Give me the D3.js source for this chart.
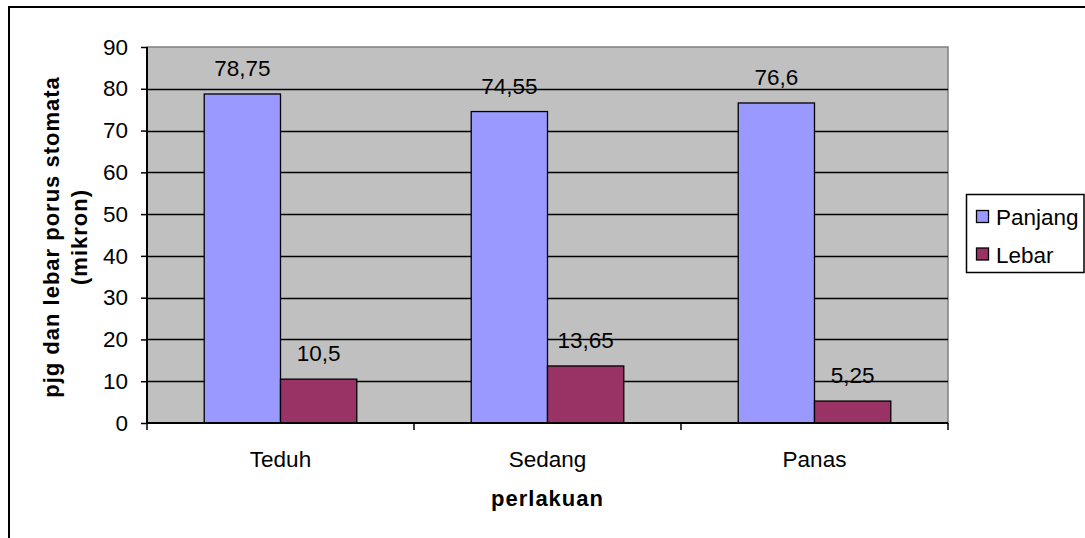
<!DOCTYPE html>
<html>
<head>
<meta charset="utf-8">
<script src="https://cdn.jsdelivr.net/npm/d3@7"></script>
<style>
  html, body { margin: 0; padding: 0; background: #fff; }
  svg { display: block; }
  text { font-family: "Liberation Sans", Arial, sans-serif; fill: #000; }
</style>
</head>
<body>
<svg id="chart" width="1085" height="538"></svg>
<script>
const categories = ["Teduh", "Sedang", "Panas"];
const seriesNames = ["Panjang", "Lebar"];
const panjang = [78.75, 74.55, 76.6];
const lebar = [10.5, 13.65, 5.25];
const yTicks = [0, 10, 20, 30, 40, 50, 60, 70, 80, 90];
const xTitle = "perlakuan";
const yTitleLines = ["pjg dan lebar porus stomata", "(mikron)"];

const colors = { Panjang: "#9999FF", Lebar: "#993366" };
const seriesValues = { Panjang: panjang, Lebar: lebar };
const FS = "22.5px";

const svg = d3.select("#chart");
const plot = { left: 147, right: 948, top: 47, bottom: 423 };

// outer chart border
svg.append("rect").attr("x", 9).attr("y", 7).attr("width", 1100).attr("height", 600)
  .attr("fill", "#fff").attr("stroke", "#000").attr("stroke-width", 2);

const y = d3.scaleLinear().domain([0, 90]).range([plot.bottom, plot.top]);
const x0 = d3.scaleBand().domain(categories).range([plot.left, plot.right]).padding(0);
const x1 = d3.scaleBand().domain(seriesNames).range([0, x0.bandwidth()])
  .paddingInner(0).paddingOuter(0.75);

// plot area
svg.append("rect").attr("x", plot.left).attr("y", plot.top)
  .attr("width", plot.right - plot.left).attr("height", plot.bottom - plot.top)
  .attr("fill", "#C0C0C0").attr("stroke", "#808080").attr("stroke-width", 1.5);

// gridlines
svg.append("g").selectAll("line").data(yTicks.filter(d => d > 0 && d < 90)).join("line")
  .attr("x1", plot.left).attr("x2", plot.right)
  .attr("y1", d => Math.round(y(d)) + 0.5).attr("y2", d => Math.round(y(d)) + 0.5)
  .attr("stroke", "#000").attr("stroke-width", 1.3);

// bars
const groups = svg.append("g").selectAll("g").data(categories).join("g")
  .attr("transform", c => `translate(${x0(c)},0)`);
groups.selectAll("rect").data((c, i) => seriesNames.map(s => ({ s, v: seriesValues[s][i] }))).join("rect")
  .attr("x", d => x1(d.s)).attr("y", d => y(d.v))
  .attr("width", x1.bandwidth()).attr("height", d => y(0) - y(d.v))
  .attr("fill", d => colors[d.s]).attr("stroke", "#000").attr("stroke-width", 1.3);

// data labels
groups.selectAll("text").data((c, i) => seriesNames.map(s => ({ s, v: seriesValues[s][i] }))).join("text")
  .attr("x", d => x1(d.s) + x1.bandwidth() / 2).attr("y", d => y(d.v) - 18)
  .attr("text-anchor", "middle").style("font-size", FS)
  .text(d => String(d.v).replace(".", ","));

// y axis
const yAxis = d3.axisLeft(y).tickValues(yTicks).tickSize(6).tickPadding(13).tickFormat(d3.format("d"));
const ya = svg.append("g").attr("transform", `translate(${plot.left},0)`).call(yAxis);
ya.select(".domain").attr("stroke", "#000").attr("stroke-width", 2).attr("d", `M0,${plot.top}V${plot.bottom}`);
ya.selectAll(".tick line").attr("stroke", "#000").attr("stroke-width", 1.5);
ya.selectAll(".tick text").style("font-size", FS).attr("font-family", null).attr("fill", "#000");

// x axis baseline and boundary ticks
svg.append("line").attr("x1", plot.left).attr("x2", plot.right)
  .attr("y1", plot.bottom).attr("y2", plot.bottom).attr("stroke", "#000").attr("stroke-width", 2);
const bounds = categories.map(c => x0(c)).concat([plot.right]);
svg.append("g").selectAll("line").data(bounds).join("line")
  .attr("x1", d => d).attr("x2", d => d).attr("y1", plot.bottom).attr("y2", plot.bottom + 7)
  .attr("stroke", "#000").attr("stroke-width", 1.5);
svg.append("g").selectAll("text").data(categories).join("text")
  .attr("x", c => x0(c) + x0.bandwidth() / 2).attr("y", 467)
  .attr("text-anchor", "middle").style("font-size", FS).text(c => c);

// axis titles
svg.append("text").attr("x", (plot.left + plot.right) / 2).attr("y", 506)
  .attr("text-anchor", "middle").style("font-size", "22px").style("font-weight", "bold")
  .style("letter-spacing", "1px").text(xTitle);
const yt = svg.append("text").attr("transform", "translate(0,237) rotate(-90)")
  .attr("text-anchor", "middle").style("font-size", "22px").style("font-weight", "bold")
  .style("letter-spacing", "1px");
yt.selectAll("tspan").data(yTitleLines).join("tspan")
  .attr("x", 0).attr("y", (d, i) => 59 + i * 28).text(d => d);

// legend
const lg = svg.append("g");
lg.append("rect").attr("x", 966.5).attr("y", 194.5).attr("width", 117.5).attr("height", 78)
  .attr("fill", "#fff").attr("stroke", "#000").attr("stroke-width", 1.5);
seriesNames.forEach((s, i) => {
  lg.append("rect").attr("x", 976.5).attr("y", 210.5 + i * 37.5).attr("width", 12).attr("height", 12)
    .attr("fill", colors[s]).attr("stroke", "#000").attr("stroke-width", 1.3);
  lg.append("text").attr("x", 996).attr("y", 225 + i * 37.5).style("font-size", FS).text(s);
});
</script>
</body>
</html>
